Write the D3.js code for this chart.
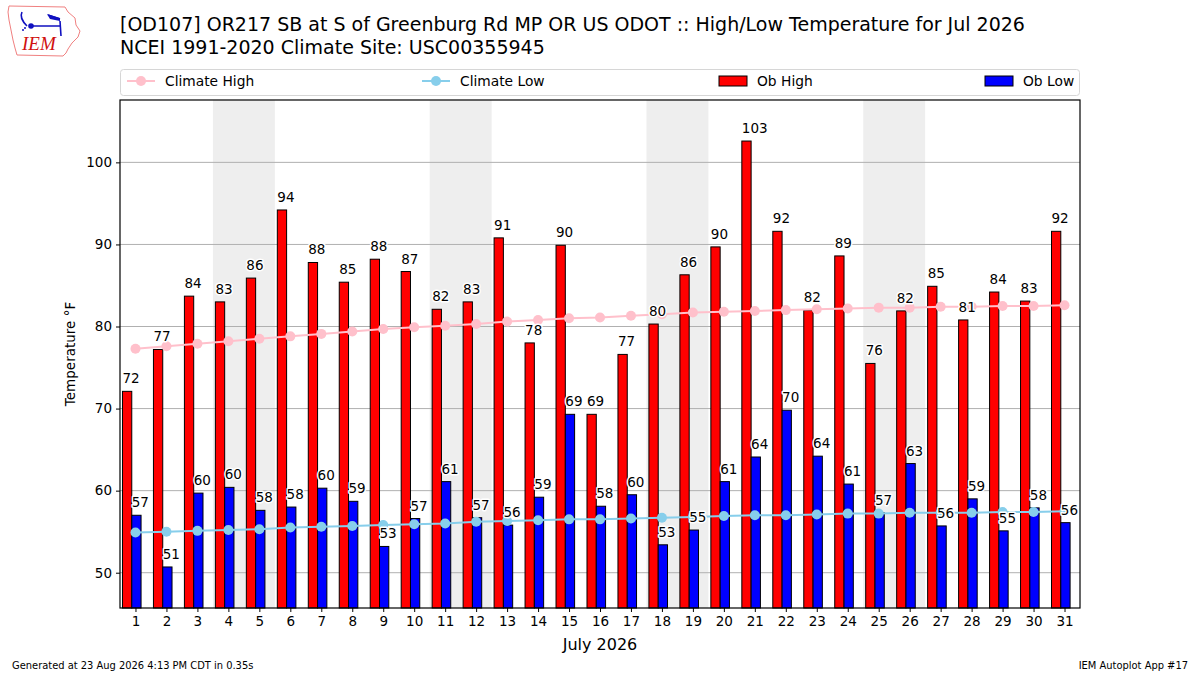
<!DOCTYPE html>
<html>
<head>
<meta charset="utf-8">
<script src="https://cdn.jsdelivr.net/npm/d3@7"></script>
<style>
  body { margin: 0; background: #fff; }
  svg { font-family: "DejaVu Sans", sans-serif; }
</style>
</head>
<body>
<div id="chart"></div>
<script>
// July 2026 observations (bar heights), labels are the rounded values
const days = d3.range(1, 32);
const obHigh = [72.1, 77.2, 83.7, 83.0, 85.9, 94.2, 87.8, 85.4, 88.2, 86.7,
  82.1, 83.0, 90.8, 78.0, 89.9, 69.3, 76.6, 80.3, 86.3, 89.7,
  102.6, 91.6, 82.0, 88.6, 75.5, 81.9, 84.9, 80.8, 84.2, 83.1, 91.6];
const obLow = [57.0, 50.7, 59.7, 60.4, 57.6, 58.0, 60.3, 58.7, 53.2, 56.6,
  61.1, 56.7, 55.8, 59.2, 69.3, 58.1, 59.5, 53.4, 55.2, 61.1,
  64.1, 69.8, 64.2, 60.8, 57.3, 63.3, 55.7, 59.0, 55.1, 57.9, 56.1];
const climateHigh = [77.3, 77.6, 77.9, 78.2, 78.5, 78.8, 79.1, 79.4, 79.7, 79.9,
  80.1, 80.3, 80.6, 80.8, 81.0, 81.1, 81.3, 81.5, 81.7, 81.8,
  81.9, 82.0, 82.1, 82.2, 82.3, 82.3, 82.4, 82.4, 82.5, 82.5, 82.6];
const climateLow = [54.9, 55.0, 55.1, 55.2, 55.3, 55.5, 55.6, 55.7, 55.8, 55.9,
  56.0, 56.2, 56.3, 56.4, 56.5, 56.5, 56.6, 56.7, 56.8, 56.9,
  57.0, 57.0, 57.1, 57.2, 57.2, 57.3, 57.3, 57.3, 57.4, 57.4, 57.5];
const yTicks = [50, 60, 70, 80, 90, 100];

const W = 1200, H = 675;
const plot = { left: 120, right: 1080, top: 100, bottom: 608 };

const svg = d3.select('#chart').append('svg')
  .attr('width', W).attr('height', H);

const x = d3.scaleLinear().domain([0.5, 31.5]).range([plot.left, plot.right]);
const y = d3.scaleLinear()
  .domain([d3.min(obLow) - 5, d3.max(obHigh) + 5])
  .range([plot.bottom, plot.top]);

// weekend shading (Sat + Sun)
const saturdays = days.filter((d) => new Date(2026, 6, d).getDay() === 6);
svg.append('g').selectAll('rect').data(saturdays).join('rect')
  .attr('x', (d) => x(d - 0.5))
  .attr('width', (d) => x(d + 1.5) - x(d - 0.5))
  .attr('y', plot.top)
  .attr('height', plot.bottom - plot.top)
  .attr('fill', '#eeeeee');

// horizontal grid
svg.append('g').selectAll('line').data(yTicks).join('line')
  .attr('x1', plot.left).attr('x2', plot.right)
  .attr('y1', (d) => y(d)).attr('y2', (d) => y(d))
  .attr('stroke', '#b0b0b0').attr('stroke-width', 1);

// bars
const barW = 0.3;
const highOff = -0.42, lowOff = -0.12;
svg.append('g').selectAll('rect').data(days).join('rect')
  .attr('x', (d) => x(d + highOff))
  .attr('width', x(barW) - x(0))
  .attr('y', (d, i) => y(obHigh[i]))
  .attr('height', (d, i) => plot.bottom - y(obHigh[i]))
  .attr('fill', 'red').attr('stroke', 'black').attr('stroke-width', 1);
svg.append('g').selectAll('rect').data(days).join('rect')
  .attr('x', (d) => x(d + lowOff))
  .attr('width', x(barW) - x(0))
  .attr('y', (d, i) => y(obLow[i]))
  .attr('height', (d, i) => plot.bottom - y(obLow[i]))
  .attr('fill', 'blue').attr('stroke', 'black').attr('stroke-width', 1);

// climate lines
function climateLine(values, color) {
  const line = d3.line().x((d) => x(d)).y((d, i) => y(values[i]));
  svg.append('path').datum(days)
    .attr('d', line)
    .attr('fill', 'none').attr('stroke', color).attr('stroke-width', 2);
  svg.append('g').selectAll('circle').data(days).join('circle')
    .attr('cx', (d) => x(d)).attr('cy', (d, i) => y(values[i]))
    .attr('r', 5).attr('fill', color);
}
climateLine(climateHigh, 'pink');
climateLine(climateLow, 'skyblue');

// value labels
function valueLabels(values, off) {
  svg.append('g').selectAll('text').data(days).join('text')
    .attr('x', (d) => x(d + off))
    .attr('y', (d, i) => y(values[i]) - 8)
    .attr('font-size', 13.5)
    .attr('fill', 'black')
    .attr('stroke', 'white').attr('stroke-width', 3)
    .attr('paint-order', 'stroke')
    .attr('stroke-linejoin', 'round')
    .text((d, i) => Math.round(values[i]));
}
valueLabels(obHigh, highOff);
valueLabels(obLow, lowOff);

// frame
svg.append('rect')
  .attr('x', plot.left).attr('y', plot.top)
  .attr('width', plot.right - plot.left).attr('height', plot.bottom - plot.top)
  .attr('fill', 'none').attr('stroke', 'black').attr('stroke-width', 1.2);

// axes
const xAxis = svg.append('g')
  .attr('transform', `translate(0,${plot.bottom})`)
  .call(d3.axisBottom(x).tickValues(days).tickSize(4).tickPadding(4));
const yAxis = svg.append('g')
  .attr('transform', `translate(${plot.left},0)`)
  .call(d3.axisLeft(y).tickValues(yTicks).tickSize(4).tickPadding(4));
[xAxis, yAxis].forEach((g) => {
  g.select('.domain').remove();
  g.selectAll('text').attr('font-size', 13.5).attr('fill', 'black')
    .attr('font-family', '"DejaVu Sans", sans-serif');
});

svg.append('text')
  .attr('x', (plot.left + plot.right) / 2).attr('y', 650)
  .attr('text-anchor', 'middle').attr('font-size', 16)
  .text('July 2026');
svg.append('text')
  .attr('transform', `translate(75,${(plot.top + plot.bottom) / 2}) rotate(-90)`)
  .attr('text-anchor', 'middle').attr('font-size', 13.5)
  .text('Temperature °F');

// titles
svg.append('text').attr('x', 120).attr('y', 31).attr('font-size', 19)
  .text('[OD107] OR217 SB at S of Greenburg Rd MP OR US ODOT :: High/Low Temperature for Jul 2026');
svg.append('text').attr('x', 120).attr('y', 54).attr('font-size', 19)
  .text('NCEI 1991-2020 Climate Site: USC00355945');

// legend
const legend = svg.append('g');
legend.append('rect')
  .attr('x', 120.5).attr('y', 69.5).attr('width', 959).attr('height', 26)
  .attr('rx', 3).attr('fill', 'white').attr('stroke', '#d6d6d6');
const legendItems = [
  { label: 'Climate High', kind: 'line', color: 'pink', x: 127 },
  { label: 'Climate Low', kind: 'line', color: 'skyblue', x: 422 },
  { label: 'Ob High', kind: 'bar', color: 'red', x: 719 },
  { label: 'Ob Low', kind: 'bar', color: 'blue', x: 985 }
];
legendItems.forEach((it) => {
  if (it.kind === 'line') {
    legend.append('line').attr('x1', it.x).attr('x2', it.x + 28)
      .attr('y1', 81).attr('y2', 81)
      .attr('stroke', it.color).attr('stroke-width', 2);
    legend.append('circle').attr('cx', it.x + 14).attr('cy', 81).attr('r', 5)
      .attr('fill', it.color);
  } else {
    legend.append('rect').attr('x', it.x).attr('y', 76).attr('width', 28).attr('height', 10)
      .attr('fill', it.color).attr('stroke', 'black').attr('stroke-width', 1);
  }
  legend.append('text').attr('x', it.x + 38).attr('y', 86)
    .attr('font-size', 13.8).text(it.label);
});

// footer
svg.append('text').attr('x', 12).attr('y', 669).attr('font-size', 11)
  .attr('font-family', '"DejaVu Sans Condensed", "DejaVu Sans", sans-serif')
  .text('Generated at 23 Aug 2026 4:13 PM CDT in 0.35s');
svg.append('text').attr('x', 1188).attr('y', 669).attr('font-size', 11)
  .attr('text-anchor', 'end')
  .attr('font-family', '"DejaVu Sans Condensed", "DejaVu Sans", sans-serif')
  .text('IEM Autoplot App #17');

// IEM logo
const logo = svg.append('g');
logo.append('path')
  .attr('d', 'M9,6 L65,7 L68,12 L75,18 L76,25 L80,31 L78,37 L72,43 L68,49 L66,53 L63,56 L17,55 L15,48 L13,40 L11,30 L9,20 L8,12 Z')
  .attr('fill', 'none').attr('stroke', '#f08080').attr('stroke-width', 1);
logo.append('path')
  .attr('d', 'M22,12 Q19,18 27,26 M31,26 L60,26 M48,15 L60,19 M60,21 L61,36')
  .attr('fill', 'none').attr('stroke', '#1010c0').attr('stroke-width', 1.6);
logo.append('path').attr('d', 'M47,14 L60,18 L60,21 L50,19 Z').attr('fill', '#1010c0');
logo.append('circle').attr('cx', 31).attr('cy', 26).attr('r', 2.8).attr('fill', '#1010c0');
logo.append('circle').attr('cx', 25).attr('cy', 28).attr('r', 1).attr('fill', '#1010c0');
logo.append('circle').attr('cx', 23).attr('cy', 30).attr('r', 1).attr('fill', '#1010c0');
logo.append('text').attr('x', 22).attr('y', 50)
  .attr('font-family', '"Liberation Serif", serif').attr('font-style', 'italic')
  .attr('font-size', 19).attr('fill', '#d01010').text('IEM');
</script>
</body>
</html>
